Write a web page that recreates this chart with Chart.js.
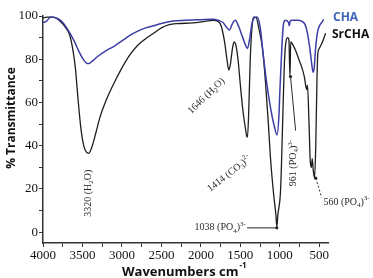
<!DOCTYPE html>
<html>
<head>
<meta charset="utf-8">
<script src="https://cdn.jsdelivr.net/npm/chart.js@4.4.1/dist/chart.umd.min.js"></script>
<style>
  html, body { margin: 0; padding: 0; background: #fff; }
  #wrap { width: 373px; height: 278px; }
</style>
</head>
<body>
<div id="wrap"><canvas id="ftirChart" width="373" height="278"></canvas></div>
<script>
// FTIR spectra, wavenumber (cm-1) vs % transmittance
const chaWave = [4000, 3960, 3900, 3850, 3800, 3750, 3700, 3650, 3600, 3550, 3500, 3450, 3420, 3380, 3300, 3200,
  3100, 3000, 2900, 2800, 2700, 2600, 2500, 2350, 2200, 2000, 1850, 1780, 1720, 1680, 1640, 1600, 1565, 1520,
  1470, 1440, 1410, 1380, 1350, 1320, 1290, 1250, 1210, 1170, 1120, 1070, 1035, 1010, 1000, 975, 955, 930, 890,
  880, 870, 850, 780, 720, 680, 650, 620, 600, 580, 565, 545, 520, 490, 460, 445];
const chaT = [97, 97.5, 99.5, 99.3, 98.5, 97, 94.5, 91.5, 88, 84, 80.5, 78.2, 78, 79, 81.5, 84,
  86, 88.5, 91, 93, 94.5, 95.5, 96.5, 97.7, 98, 98.3, 98.5, 98, 97, 95, 93.5, 96.5, 98, 95,
  90, 87, 85, 90, 97, 99.3, 99.5, 95, 82, 70, 58, 49, 45, 55, 65, 85, 96, 98, 97,
  95.5, 97.5, 98, 98, 97.5, 96, 92, 85, 79, 74, 76, 86, 93, 96, 97.5, 98.5];

const srWave = [4000, 3950, 3880, 3850, 3780, 3720, 3660, 3620, 3590, 3555, 3520, 3490, 3450, 3420, 3380, 3330,
  3280, 3200, 3100, 3000, 2900, 2800, 2700, 2600, 2500, 2400, 2300, 2100, 1950, 1850, 1780, 1740, 1700,
  1670, 1646, 1625, 1600, 1580, 1560, 1530, 1500, 1470, 1440, 1420, 1410, 1395, 1375, 1350, 1330, 1300, 1270,
  1220, 1183, 1145, 1120, 1080, 1050, 1038, 1025, 990, 965, 940, 900, 885, 872, 862, 840, 800, 760, 720, 690,
  660, 650, 630, 615, 600, 590, 575, 560, 545, 530, 520, 500, 460, 420];
const srT = [99, 99.5, 99.5, 99.3, 97.5, 95, 91, 84, 76, 61, 48, 41, 37, 36.5, 39.5, 46,
  53, 61, 69, 76, 82, 86.5, 89.5, 92, 94.5, 96, 96.5, 96.8, 97.5, 98, 97.5, 95, 88,
  80, 75, 78, 85, 88, 87, 80, 68, 57, 49, 44.5, 44, 55, 80, 96, 99.5, 99.3, 95,
  85, 70, 50, 35, 18, 8, 2.5, 8, 20, 50, 80, 90, 89, 72, 88, 87, 84, 80, 76, 72,
  66, 68, 50, 33, 30, 34, 28, 25, 40, 70, 82, 85, 88, 92];

const xTickLabels = [500, 1000, 1500, 2000, 2500, 3000, 3500, 4000];
const yTickLabels = [0, 20, 40, 60, 80, 100];

const toPoints = (xs, ys) => xs.map((x, i) => ({ x: x, y: ys[i] }));

const serif = '"Liberation Serif", "DejaVu Serif", serif';
const sans = '"Open Sans", "Noto Sans", sans-serif';

// draw text made of normal / sub / sup parts
function richText(ctx, parts, x, y, angle, align, size) {
  const fontFor = m => (m === 'n' ? size : Math.round(size * 0.65)) + 'px ' + serif;
  let total = 0;
  parts.forEach(p => { ctx.font = fontFor(p[1]); total += ctx.measureText(p[0]).width; });
  ctx.save();
  ctx.translate(x, y);
  ctx.rotate(angle * Math.PI / 180);
  ctx.textBaseline = 'middle';
  ctx.textAlign = 'left';
  let cx = align === 'center' ? -total / 2 : (align === 'right' ? -total : 0);
  parts.forEach(p => {
    ctx.font = fontFor(p[1]);
    const dy = p[1] === 'sub' ? size * 0.3 : (p[1] === 'sup' ? -size * 0.35 : 0);
    ctx.fillText(p[0], cx, dy);
    cx += ctx.measureText(p[0]).width;
  });
  ctx.restore();
}

const labelsPlugin = {
  id: 'labels',
  afterDatasetsDraw(chart) {
    const ctx = chart.ctx;
    const xs = chart.scales.x, ys = chart.scales.y;
    const px = v => xs.getPixelForValue(v), py = v => ys.getPixelForValue(v);
    ctx.save();
    ctx.fillStyle = '#2a2a2a';
    ctx.strokeStyle = '#2a2a2a';
    ctx.lineWidth = 1;

    richText(ctx, [['3320 (H', 'n'], ['2', 'sub'], ['O)', 'n']], px(3430), py(18), -90, 'center', 10);
    richText(ctx, [['1646 (H', 'n'], ['2', 'sub'], ['O)', 'n']], px(1930), py(63), -44, 'center', 10);
    richText(ctx, [['1414 (CO', 'n'], ['3', 'sub'], [')', 'n'], ['2-', 'sup']], px(1640), py(27), -38, 'center', 10);
    richText(ctx, [['961 (PO', 'n'], ['4', 'sub'], [')', 'n'], ['3-', 'sup']], px(830), py(32), -90, 'center', 10);
    richText(ctx, [['1038 (PO', 'n'], ['4', 'sub'], [')', 'n'], ['3-', 'sup']], px(1430), py(2), 0, 'right', 10);
    richText(ctx, [['560 (PO', 'n'], ['4', 'sub'], [')', 'n'], ['3-', 'sup']], px(448), py(14), 0, 'left', 10);

    // leader lines
    ctx.beginPath();
    ctx.moveTo(px(1415), py(2)); ctx.lineTo(px(1038), py(2));
    ctx.moveTo(px(800), py(47)); ctx.lineTo(px(865), py(72));
    ctx.stroke();
    ctx.setLineDash([2, 2]);
    ctx.beginPath();
    ctx.moveTo(px(545), py(25)); ctx.lineTo(px(470), py(16));
    ctx.stroke();
    ctx.setLineDash([]);
    [[1038, 2], [865, 72], [545, 25]].forEach(d => {
      ctx.beginPath(); ctx.arc(px(d[0]), py(d[1]), 1.6, 0, Math.PI * 2); ctx.fill();
    });

    // axis titles
    ctx.font = 'bold 12px ' + sans;
    ctx.fillStyle = '#111';
    ctx.textBaseline = 'middle';
    ctx.save();
    ctx.translate(12, 118);
    ctx.rotate(-Math.PI / 2);
    ctx.textAlign = 'center';
    ctx.fillText('% Transmittance', 0, 0);
    ctx.restore();
    ctx.textAlign = 'left';
    ctx.font = 'bold 13px ' + sans;
    ctx.fillText('Wavenumbers cm', 122, 272);
    const w = ctx.measureText('Wavenumbers cm').width;
    ctx.font = 'bold 8px ' + sans;
    ctx.fillText('-1', 122 + w + 1, 266);

    // legend
    ctx.font = 'bold 12px ' + sans;
    ctx.fillStyle = '#3c64b8';
    ctx.fillText('CHA', 333, 18);
    ctx.fillStyle = '#111';
    ctx.fillText('SrCHA', 332, 35);
    ctx.restore();
  }
};

new Chart(document.getElementById('ftirChart').getContext('2d'), {
  type: 'scatter',
  data: {
    datasets: [
      {
        label: 'CHA',
        data: toPoints(chaWave, chaT),
        showLine: true,
        borderColor: '#3d3da6',
        borderWidth: 1.5,
        pointRadius: 0,
        cubicInterpolationMode: 'monotone',
        clip: false
      },
      {
        label: 'SrCHA',
        data: toPoints(srWave, srT),
        showLine: true,
        borderColor: '#1e1e1e',
        borderWidth: 1.3,
        pointRadius: 0,
        cubicInterpolationMode: 'monotone',
        clip: false
      }
    ]
  },
  options: {
    responsive: false,
    animation: false,
    layout: { padding: { left: 0, right: 45, top: 16, bottom: 0 } },
    plugins: { legend: { display: false }, tooltip: { enabled: false } },
    scales: {
      x: {
        type: 'linear',
        reverse: true,
        min: 390,
        max: 4000,
        afterFit: s => { s.height = 35; },
        border: { color: '#333', width: 1.5 },
        grid: { drawOnChartArea: false, tickLength: 4, color: '#333' },
        ticks: {
          stepSize: 250,
          includeBounds: false,
          autoSkip: false,
          maxRotation: 0,
          padding: 1,
          color: '#111',
          font: { family: serif, size: 13 },
          callback: v => (xTickLabels.includes(v) ? String(v) : '')
        }
      },
      y: {
        min: -5,
        max: 100,
        afterFit: s => { s.width = 43; },
        border: { color: '#333', width: 1.5 },
        grid: { drawOnChartArea: false, tickLength: 4, color: '#333' },
        ticks: {
          stepSize: 10,
          includeBounds: false,
          autoSkip: false,
          padding: 1,
          color: '#111',
          font: { family: serif, size: 13 },
          callback: v => (yTickLabels.includes(v) ? String(v) : '')
        }
      }
    }
  },
  plugins: [labelsPlugin]
});
</script>
</body>
</html>
